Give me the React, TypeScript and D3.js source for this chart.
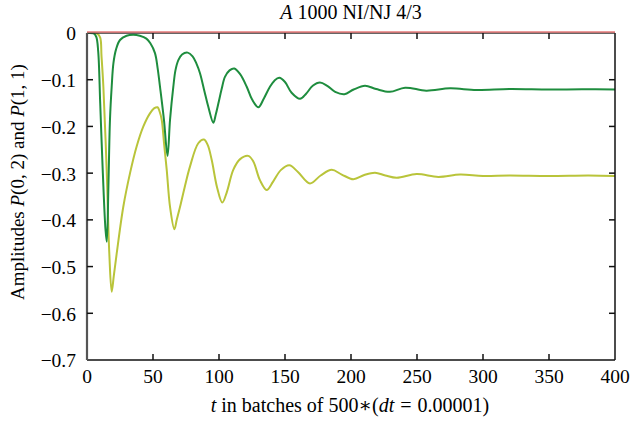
import React from 'react';
import * as d3 from 'd3';

// amplitudes
const greenT = [0, 5, 7, 8.5, 10, 12, 14, 15, 16.2, 17.4, 18.7, 20, 22, 25, 30, 35, 40, 45, 48, 51.5, 53.5, 55.3, 58.3, 61, 62.9, 65.4, 67, 69.2, 72, 76.3, 80, 83, 85.6, 89, 91.9, 95.7, 97.5, 99.5, 102, 104.5, 108, 111.6, 116, 121, 125, 129.8, 134, 138.6, 142, 145.7, 150, 155, 161.4, 166, 171, 176.5, 182, 188, 195, 202, 210.6, 219, 229.5, 241, 257, 275, 295, 320, 350, 375, 400];
const greenP = [0, -0.001, -0.008, -0.04, -0.15, -0.3, -0.42, -0.447, -0.33, -0.186, -0.115, -0.065, -0.035, -0.015, -0.006, -0.004, -0.006, -0.012, -0.022, -0.043, -0.075, -0.115, -0.186, -0.263, -0.186, -0.115, -0.08, -0.058, -0.046, -0.042, -0.05, -0.066, -0.086, -0.125, -0.158, -0.192, -0.175, -0.151, -0.12, -0.094, -0.08, -0.076, -0.088, -0.115, -0.142, -0.159, -0.14, -0.115, -0.102, -0.096, -0.105, -0.128, -0.141, -0.13, -0.113, -0.106, -0.113, -0.126, -0.131, -0.121, -0.113, -0.12, -0.126, -0.117, -0.1235, -0.1185, -0.122, -0.12, -0.121, -0.1205, -0.121];

const yellowT = [0, 5, 8, 10, 11, 12.4, 14.9, 16.9, 18.7, 20.3, 22.5, 27.5, 32.6, 37.6, 42.7, 47.7, 51, 53.5, 55, 56.6, 58.5, 60.4, 62.9, 66.2, 68, 70.5, 74, 78, 84.3, 88.6, 91.5, 94.5, 98.5, 102.5, 106, 110.8, 116, 122.2, 126, 131, 136.1, 141, 147, 153.3, 160, 168.9, 177, 185.4, 193, 201.8, 210, 218.2, 226, 234.6, 249.7, 266.2, 282.6, 300, 320, 350, 380, 400];
const yellowP = [0, 0, -0.002, -0.01, -0.05, -0.115, -0.293, -0.472, -0.554, -0.52, -0.472, -0.372, -0.3, -0.243, -0.2, -0.172, -0.161, -0.159, -0.168, -0.186, -0.24, -0.293, -0.372, -0.42, -0.4, -0.372, -0.33, -0.286, -0.236, -0.228, -0.24, -0.272, -0.33, -0.363, -0.34, -0.293, -0.27, -0.263, -0.275, -0.315, -0.336, -0.318, -0.293, -0.283, -0.298, -0.322, -0.305, -0.293, -0.303, -0.313, -0.304, -0.299, -0.305, -0.31, -0.302, -0.308, -0.303, -0.306, -0.305, -0.306, -0.305, -0.306];

// flat reference series along zero
const zeroT = [0, 400];
const zeroP = [0, 0];

const xTicks = [0, 50, 100, 150, 200, 250, 300, 350, 400];
const yTicks = [0, -0.1, -0.2, -0.3, -0.4, -0.5, -0.6, -0.7];

const W = 632;
const H = 425;
const margin = { top: 33, right: 17, bottom: 65, left: 87 };
const font = '"Liberation Serif", "DejaVu Serif", serif';

const App = () => {
  const iw = W - margin.left - margin.right;
  const ih = H - margin.top - margin.bottom;

  const x = d3.scaleLinear().domain([0, 400]).range([0, iw]);
  const y = d3.scaleLinear().domain([-0.7, 0]).range([ih, 0]);

  const line = d3
    .line<number>()
    .x((d) => x(d))
    .curve(d3.curveCatmullRom.alpha(0.5));

  const pathFor = (ts: number[], ps: number[]) =>
    line.y((_, i) => y(ps[i]))(ts) || '';

  const fmt = (v: number) => (v === 0 ? '0' : '\u2212' + Math.abs(v).toFixed(1));

  return (
    <svg width={W} height={H} style={{ position: 'absolute', left: 0, top: 0 }}>
      <rect width={W} height={H} fill="#fff" />
      <text x={351} y={19} textAnchor="middle" fontFamily={font} fontSize={20}>
        <tspan fontStyle="italic">A</tspan> 1000 NI/NJ 4/3
      </text>
      <g transform={`translate(${margin.left},${margin.top})`}>
        {/* series */}
        <path d={pathFor(yellowT, yellowP)} fill="none" stroke="#b9c43a" strokeWidth={2} />
        <path d={pathFor(greenT, greenP)} fill="none" stroke="#1e8d3e" strokeWidth={2} />

        {/* frame */}
        <line x1={iw} x2={iw} y1={0} y2={ih} stroke="#111" strokeWidth={1.5} />
        <line x1={0} x2={iw} y1={ih} y2={ih} stroke="#111" strokeWidth={1.5} />
        <line x1={0} x2={iw} y1={0} y2={0} stroke="#333" strokeWidth={1.5} />
        <line x1={0} x2={0} y1={0} y2={ih} stroke="#555" strokeWidth={2.2} />
        <path d={pathFor(zeroT, zeroP)} transform="translate(0,-1)" fill="none" stroke="#e77a7a" strokeWidth={1.5} />

        {/* x ticks */}
        {xTicks.map((t) => (
          <g key={t} transform={`translate(${x(t)},0)`}>
            {t > 0 && t < 400 && (
              <>
                <line y1={ih} y2={ih - 6} stroke="#111" strokeWidth={1.5} />
                <line y1={0} y2={6} stroke="#111" strokeWidth={1.5} />
              </>
            )}
            <text y={ih + 23} textAnchor="middle" fontFamily={font} fontSize={19.5}>
              {t}
            </text>
          </g>
        ))}

        {/* y ticks */}
        {yTicks.map((t) => (
          <g key={t} transform={`translate(0,${y(t)})`}>
            {t < 0 && t > -0.7 && (
              <>
                <line x1={0} x2={6} stroke="#111" strokeWidth={1.5} />
                <line x1={iw} x2={iw - 6} stroke="#111" strokeWidth={1.5} />
              </>
            )}
            <text x={-11} dy="0.38em" textAnchor="end" fontFamily={font} fontSize={19.5}>
              {fmt(t)}
            </text>
          </g>
        ))}
      </g>

      <text x={350} y={412} textAnchor="middle" fontFamily={font} fontSize={20}>
        <tspan fontStyle="italic">t</tspan> in batches of 500∗(<tspan fontStyle="italic">dt</tspan>
        <tspan dx={6}>=</tspan>
        <tspan dx={6}>0.00001)</tspan>
      </text>
      <text
        transform={`translate(24,182) rotate(-90)`}
        textAnchor="middle"
        fontFamily={font}
        fontSize={19}
      >
        Amplitudes <tspan fontStyle="italic">P</tspan>(0, 2) and <tspan fontStyle="italic">P</tspan>(1, 1)
      </text>
    </svg>
  );
};

export default App;
